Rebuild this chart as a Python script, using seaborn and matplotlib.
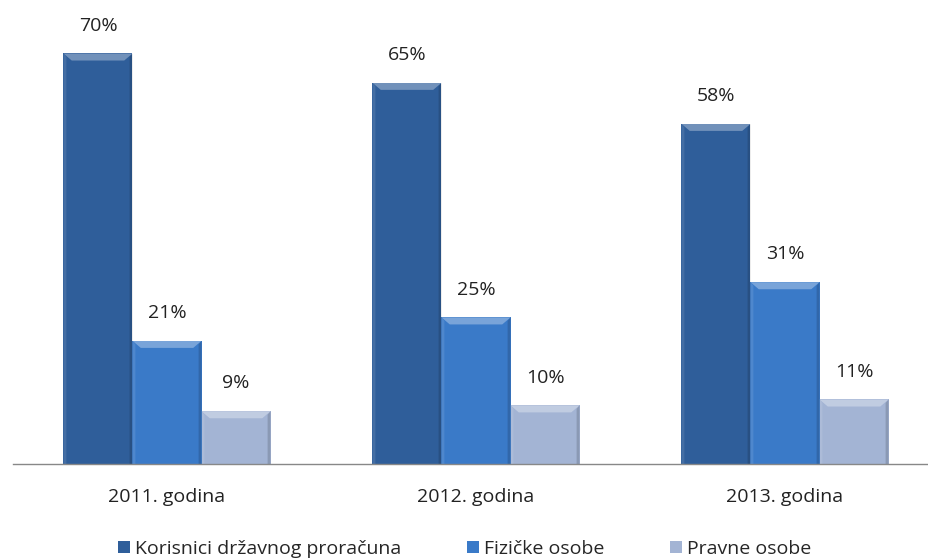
import matplotlib
matplotlib.use("Agg")
import matplotlib.pyplot as plt
import seaborn as sns
import pandas as pd
from matplotlib.patches import Polygon

categories = ["2011. godina", "2012. godina", "2013. godina"]
series = ["Korisnici državnog proračuna", "Fizičke osobe", "Pravne osobe"]
korisnici = [70, 65, 58]
fizicke = [21, 25, 31]
pravne = [9, 10, 11]

colors = ["#2F5E9A", "#3A7AC8", "#A3B4D4"]

rows = []
for name, vals in zip(series, [korisnici, fizicke, pravne]):
    for c, v in zip(categories, vals):
        rows.append({"cat": c, "series": name, "val": v})
df = pd.DataFrame(rows)

sns.set_theme(style="white")
plt.rcParams["font.family"] = ["Open Sans", "DejaVu Sans"]

fig = plt.figure(figsize=(9.29, 5.58), dpi=100)
ax = fig.add_axes([12.5 / 929, 94 / 558, 927 / 929, 441 / 558])

sns.barplot(data=df, x="cat", y="val", hue="series", order=categories,
            hue_order=series, palette=colors, width=0.67, gap=0,
            saturation=1, ax=ax, legend=True, edgecolor="none", linewidth=0)

ax.set_xlim(-0.5, 2.5)
ax.set_ylim(0, 75.2)

# bevel effect and labels derived from drawn bars
for cont in ax.containers:
    for bar, v in zip(cont.patches, cont.datavalues):
        x0, y0 = bar.get_x(), bar.get_y()
        w, h = bar.get_width(), bar.get_height()
        bx = w * 0.12
        by = 1.2
        top = y0 + h
        ax.add_patch(Polygon([(x0, top), (x0 + w, top), (x0 + w - bx, top - by), (x0 + bx, top - by)],
                             closed=True, facecolor="white", alpha=0.32, edgecolor="none"))
        ax.add_patch(Polygon([(x0, y0), (x0 + bx * 0.35, y0), (x0 + bx * 0.35, top - by * 0.5), (x0, top)],
                             closed=True, facecolor="white", alpha=0.10, edgecolor="none"))
        ax.add_patch(Polygon([(x0 + w, y0), (x0 + w - bx * 0.35, y0), (x0 + w - bx * 0.35, top - by * 0.5), (x0 + w, top)],
                             closed=True, facecolor="black", alpha=0.15, edgecolor="none"))
        ax.text(x0 + w / 2, top + 3.2, f"{v:.0f}%", ha="center", va="bottom",
                fontsize=14, color="#222222", clip_on=False)

for s in ["left", "top", "right"]:
    ax.spines[s].set_visible(False)
ax.spines["bottom"].set_color("#888888")
ax.spines["bottom"].set_linewidth(1)
ax.set_yticks([])
ax.set_xlabel("")
ax.set_ylabel("")
ax.set_xticks([0, 1, 2])
ax.set_xticklabels(categories, fontsize=14, color="#222222")
ax.tick_params(axis="x", which="major", length=0, pad=17)
ax.set_xticks([-0.5, 0.5, 1.5, 2.5], minor=True)
ax.tick_params(axis="x", which="minor", length=6, color="#888888", width=1, direction="out")

handles, labels = ax.get_legend_handles_labels()
ax.legend(handles, labels, loc="center", bbox_to_anchor=(0.5 * 929 / 927 - 12.5 / 927, -0.192),
          ncol=3, frameon=False, fontsize=14, handlelength=0.6, handleheight=0.6,
          handletextpad=0.25, columnspacing=3.4)

fig.savefig("out.png", dpi=100)
